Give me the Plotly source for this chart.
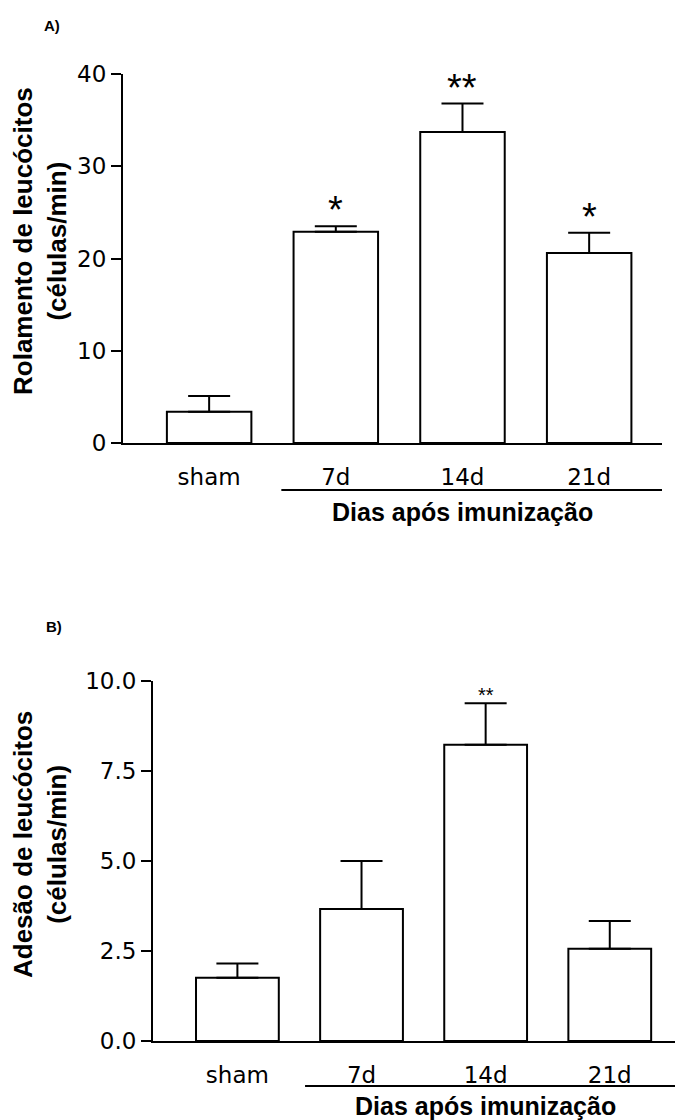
import plotly.graph_objects as go

categories = ["sham", "7d", "14d", "21d"]

# Panel A: rolling
rol_mean = [3.4, 22.9, 33.7, 20.6]
rol_sem = [1.7, 0.6, 3.1, 2.2]
rol_sig = ["", "*", "**", "*"]
rol_ticks = [0, 10, 20, 30, 40]

# Panel B: adhesion
ade_mean = [1.76, 3.67, 8.23, 2.56]
ade_sem = [0.39, 1.33, 1.15, 0.77]
ade_sig = ["", "", "**", ""]
ade_ticks = [0.0, 2.5, 5.0, 7.5, 10.0]
ade_ticktext = ["0.0", "2.5", "5.0", "7.5", "10.0"]

OFF = 8  # default page body margin
W, H = 683 - OFF, 1120 - OFF
TICKFONT = dict(family="DejaVu Sans", size=23, color="black")
BOLD = "Liberation Sans"


def px(x):
    return (x - OFF) / W


def py(y):
    return 1 - (y - OFF) / H


fig = go.Figure()

bar_style = dict(marker=dict(color="white", line=dict(color="black", width=2)), width=0.667)

fig.add_trace(go.Bar(
    x=categories, y=rol_mean, xaxis="x", yaxis="y",
    error_y=dict(type="data", array=rol_sem, arrayminus=[0] * 4, symmetric=False,
                 color="black", thickness=2, width=21),
    **bar_style))
fig.add_trace(go.Bar(
    x=categories, y=ade_mean, xaxis="x2", yaxis="y2",
    error_y=dict(type="data", array=ade_sem, arrayminus=[0] * 4, symmetric=False,
                 color="black", thickness=2, width=21),
    **bar_style))

axis_common = dict(showline=True, linecolor="black", linewidth=2, showgrid=False,
                   zeroline=False, tickfont=TICKFONT)

fig.update_layout(
    width=W, height=H, margin=dict(l=0, r=0, t=0, b=0, autoexpand=False),
    paper_bgcolor="white", plot_bgcolor="white", showlegend=False,
    xaxis=dict(domain=[px(123), px(662)], anchor="y", range=[-0.68, 3.575],
               ticks="", ticklabelstandoff=12, **axis_common),
    yaxis=dict(domain=[py(443), py(74)], anchor="x", range=[0, 40], tickvals=rol_ticks,
               ticks="outside", ticklen=10, tickwidth=2, tickcolor="black", **axis_common),
    xaxis2=dict(domain=[px(153), 1.0], anchor="y2", range=[-0.68, 3.59],
                ticks="", ticklabelstandoff=12, **axis_common),
    yaxis2=dict(domain=[py(1041), py(681)], anchor="x2", range=[0, 10], tickvals=ade_ticks,
                ticktext=ade_ticktext,
                ticks="outside", ticklen=10, tickwidth=2, tickcolor="black", **axis_common),
)

# significance marks
for c, m, s, t in zip(categories, rol_mean, rol_sem, rol_sig):
    if t:
        fig.add_annotation(x=c, y=m + s, xref="x", yref="y", text=t, showarrow=False,
                           xanchor="center", yanchor="bottom", yshift=-7,
                           font=dict(family=BOLD, size=38, color="black"))
for c, m, s, t in zip(categories, ade_mean, ade_sem, ade_sig):
    if t:
        fig.add_annotation(x=c, y=m + s, xref="x2", yref="y2", text=t, showarrow=False,
                           xanchor="center", yanchor="bottom", yshift=-5,
                           font=dict(family=BOLD, size=20, color="black"))

# group lines and titles
fig.add_shape(type="line", xref="x", yref="paper", x0=0.57, x1=3.575,
              y0=py(490), y1=py(490), line=dict(color="black", width=2))
fig.add_shape(type="line", xref="x2", yref="paper", x0=0.545, x1=3.59,
              y0=py(1086), y1=py(1086), line=dict(color="black", width=2))

for xr, yy in (("x", 512), ("x2", 1106)):
    fig.add_annotation(x=2, y=py(yy), xref=xr, yref="paper", text="<b>Dias após imunização</b>",
                       showarrow=False, xanchor="center", yanchor="middle",
                       font=dict(family=BOLD, size=25, color="black"))

# y titles
fig.add_annotation(x=px(40), y=py(241), xref="paper", yref="paper", textangle=-90,
                   text="<b>Rolamento de leucócitos<br>(células/min)</b>", showarrow=False,
                   xanchor="center", yanchor="middle",
                   font=dict(family=BOLD, size=26, color="black"))
fig.add_annotation(x=px(40), y=py(845), xref="paper", yref="paper", textangle=-90,
                   text="<b>Adesão de leucócitos<br>(células/min)</b>", showarrow=False,
                   xanchor="center", yanchor="middle",
                   font=dict(family=BOLD, size=26, color="black"))

# panel labels
fig.add_annotation(x=px(52), y=py(25), xref="paper", yref="paper", text="<b>A)</b>",
                   showarrow=False, xanchor="center", yanchor="middle",
                   font=dict(family=BOLD, size=15, color="black"))
fig.add_annotation(x=px(54), y=py(626), xref="paper", yref="paper", text="<b>B)</b>",
                   showarrow=False, xanchor="center", yanchor="middle",
                   font=dict(family=BOLD, size=15, color="black"))

fig.write_html("out.html")
